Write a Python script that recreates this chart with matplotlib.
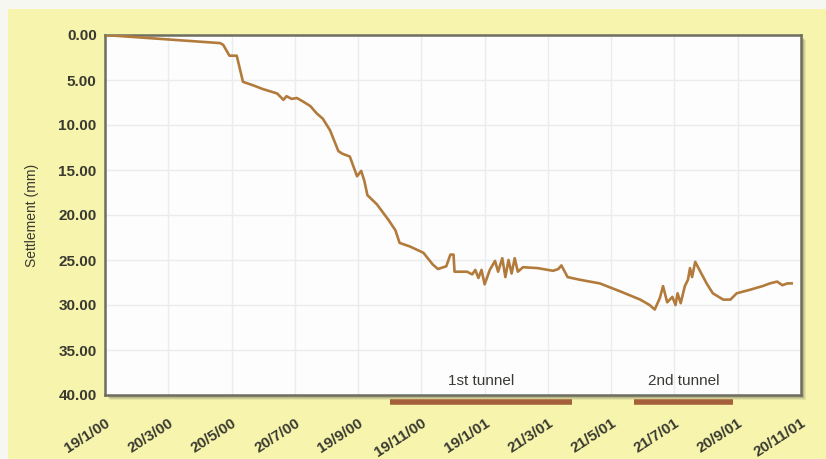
import matplotlib
matplotlib.use("Agg")
import matplotlib.pyplot as plt
from matplotlib.patches import Rectangle
import datetime as dt

# Surface settlement readings over the monitoring period
dates = [
    "2000-01-19", "2000-05-09", "2000-05-12", "2000-05-18", "2000-05-25", "2000-05-31",
    "2000-06-10", "2000-06-19", "2000-07-03", "2000-07-09", "2000-07-12", "2000-07-17",
    "2000-07-22", "2000-07-28", "2000-08-04", "2000-08-10", "2000-08-16", "2000-08-23",
    "2000-08-31", "2000-09-04", "2000-09-11", "2000-09-18", "2000-09-22", "2000-09-25",
    "2000-09-28", "2000-10-07", "2000-10-18", "2000-10-25", "2000-10-29", "2000-11-08",
    "2000-11-21", "2000-11-30", "2000-12-05", "2000-12-13", "2000-12-17", "2000-12-20",
    "2000-12-21", "2001-01-02", "2001-01-07", "2001-01-10", "2001-01-13", "2001-01-16",
    "2001-01-19", "2001-01-24", "2001-01-29", "2001-02-01", "2001-02-05", "2001-02-08",
    "2001-02-11", "2001-02-14", "2001-02-17", "2001-02-20", "2001-02-25", "2001-03-11",
    "2001-03-26", "2001-03-31", "2001-04-03", "2001-04-09", "2001-04-21", "2001-05-10",
    "2001-05-30", "2001-06-18", "2001-06-27", "2001-07-02", "2001-07-07", "2001-07-10",
    "2001-07-14", "2001-07-19", "2001-07-22", "2001-07-24", "2001-07-27", "2001-07-31",
    "2001-08-03", "2001-08-05", "2001-08-07", "2001-08-10", "2001-08-15", "2001-08-21",
    "2001-08-27", "2001-09-06", "2001-09-13", "2001-09-19", "2001-10-02", "2001-10-14",
    "2001-10-21", "2001-10-28", "2001-11-02", "2001-11-07", "2001-11-11",
]
settlement = [
    0.0, 0.9, 1.1, 2.3, 2.3, 5.2,
    5.6, 6.0, 6.5, 7.2, 6.8, 7.1,
    7.0, 7.4, 7.9, 8.7, 9.3, 10.6,
    12.9, 13.2, 13.5, 15.7, 15.1, 16.2,
    17.8, 18.8, 20.5, 21.7, 23.1, 23.5,
    24.2, 25.5, 26.0, 25.7, 24.4, 24.4,
    26.3, 26.3, 26.6, 26.1, 27.0, 26.1,
    27.7, 26.1, 25.1, 26.3, 24.8, 26.9,
    25.0, 26.5, 24.8, 26.3, 25.8, 25.9,
    26.2, 26.0, 25.6, 26.9, 27.2, 27.6,
    28.5, 29.4, 30.0, 30.5, 29.2, 27.9,
    29.7, 29.1, 30.0, 28.7, 29.8, 27.9,
    27.2, 25.9, 26.9, 25.2, 26.3, 27.6,
    28.7, 29.4, 29.4, 28.7, 28.3, 27.9,
    27.6, 27.4, 27.8, 27.6, 27.6,
]

tick_dates = ["2000-01-19", "2000-03-20", "2000-05-20", "2000-07-20", "2000-09-19",
              "2000-11-19", "2001-01-19", "2001-03-21", "2001-05-21", "2001-07-21",
              "2001-09-20", "2001-11-20"]
tick_labels = ["19/1/00", "20/3/00", "20/5/00", "20/7/00", "19/9/00", "19/11/00",
               "19/1/01", "21/3/01", "21/5/01", "21/7/01", "20/9/01", "20/11/01"]
y_ticks = [0, 5, 10, 15, 20, 25, 30, 35, 40]

tunnels = ["1st tunnel", "2nd tunnel"]
tunnel_start = ["2000-10-20", "2001-06-12"]
tunnel_end = ["2001-04-13", "2001-09-15"]

to_dt = lambda s: dt.datetime.strptime(s, "%Y-%m-%d")
x = [to_dt(d) for d in dates]

plt.rcParams["font.family"] = ["Liberation Sans", "DejaVu Sans"]

fig = plt.figure(figsize=(8.26, 4.59), dpi=100)
fig.patch.set_facecolor("#f7f7f2")

# yellow backing panel
fig.patches.append(Rectangle((8 / 826, 0), 1 - 8 / 826, 1 - 9 / 459,
                             transform=fig.transFigure, facecolor="#f6f4ad",
                             edgecolor="none", zorder=0))

ax_l, ax_b = 105 / 826, 1 - 395 / 459
ax_w, ax_h = (801 - 105) / 826, (395 - 35) / 459

# soft drop shadow behind the plotting area
for off, alpha in [(5, 0.10), (4, 0.15), (3, 0.2)]:
    fig.patches.append(Rectangle((ax_l + off / 826, ax_b - off / 459), ax_w, ax_h,
                                 transform=fig.transFigure, facecolor="#5a5a50",
                                 alpha=alpha, edgecolor="none", zorder=1))

ax = fig.add_axes([ax_l, ax_b, ax_w, ax_h])
ax.set_zorder(2)
ax.set_facecolor("#fdfdfd")

ax.plot(x, settlement, color="#b27b3c", lw=1.9, solid_joinstyle="round", zorder=3)

ax.set_xlim(to_dt(tick_dates[0]), to_dt(tick_dates[-1]))
ax.set_ylim(40, 0)
ax.set_yticks(y_ticks)
ax.set_yticklabels([f"{v:.2f}" for v in y_ticks])
ax.set_xticks([to_dt(d) for d in tick_dates])
ax.set_xticklabels(tick_labels, rotation=33, ha="right", va="top",
                   rotation_mode="anchor")

ax.grid(True, color="#e9edf0", lw=1.0, zorder=0)
ax.tick_params(axis="both", length=0, labelsize=11, labelcolor="#3a3a30")
ax.tick_params(axis="y", pad=6)
ax.tick_params(axis="x", pad=15)
for lab in ax.get_yticklabels() + ax.get_xticklabels():
    lab.set_fontweight("bold")
for sp in ax.spines.values():
    sp.set_color("#6e6e60")
    sp.set_linewidth(1.8)

ax.set_ylabel("Settlement (mm)", fontsize=10, color="#3a3a30", labelpad=14)

# construction periods of the two tunnels
trans = ax.get_xaxis_transform()
for name, s, e in zip(tunnels, tunnel_start, tunnel_end):
    xs, xe = to_dt(s), to_dt(e)
    ax.plot([xs, xe], [-0.02, -0.02], transform=trans, color="#a4603a",
            lw=4, solid_capstyle="butt", clip_on=False, zorder=4)
    xm = xs + (xe - xs) / 2
    ax.text(xm, 38.4, name, ha="center", va="center", fontsize=11,
            color="#3a3a35")

fig.savefig("out.png", dpi=100, facecolor=fig.get_facecolor())
